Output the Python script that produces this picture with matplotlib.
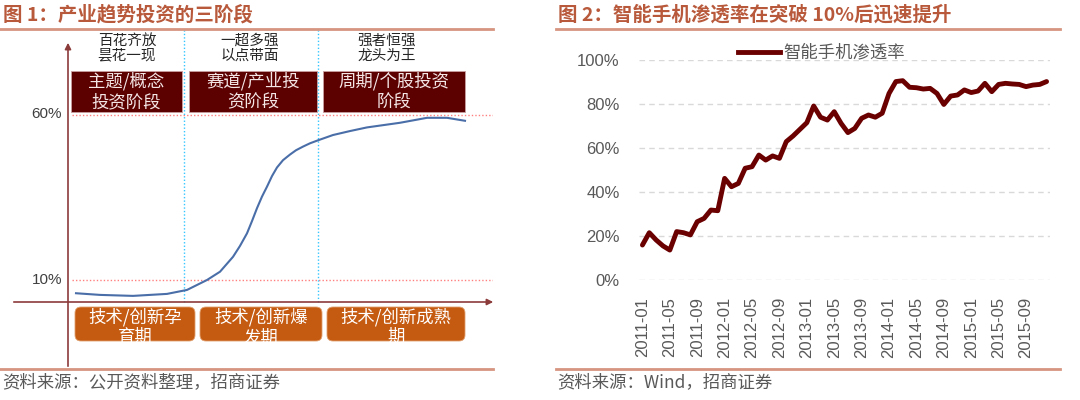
import matplotlib
matplotlib.use("Agg")
import matplotlib.pyplot as plt
from matplotlib.lines import Line2D
from matplotlib.patches import Rectangle, FancyBboxPatch

plt.rcParams['font.family'] = ['Noto Sans CJK SC', 'DejaVu Sans']

# ---- data ----
# figure 1: conceptual S curve (x = time position, y = penetration %)
curve_x = [76, 100, 133, 167, 187, 207, 220, 233, 240, 247, 252, 257, 262, 267, 272, 277, 283, 290,
           296, 303, 310, 318, 333, 350, 367, 400, 427, 447, 465]
curve_y = [6.0, 5.5, 5.2, 5.8, 7.0, 10.0, 12.5, 17.0, 20.3, 24.1, 27.8, 31.7, 35.2, 38.2, 41.4, 44.0,
           46.2, 47.9, 49.2, 50.3, 51.3, 52.2, 53.8, 55.0, 56.1, 57.5, 59.0, 59.0, 58.1]
stage_top = ["百花齐放\n昙花一现", "一超多强\n以点带面", "强者恒强\n龙头为王"]
stage_invest = ["主题/概念\n投资阶段", "赛道/产业投\n资阶段", "周期/个股投资\n阶段"]
stage_tech = ["技术/创新孕\n育期", "技术/创新爆\n发期", "技术/创新成熟\n期"]
ref_levels = [10, 60]

# figure 2: smartphone penetration, monthly 2011-01 .. 2015-12
months = ["%d-%02d" % (y, m) for y in range(2011, 2016) for m in range(1, 13)]
penetration = [15.9, 21.5, 18.2, 15.5, 13.6, 22.0, 21.5, 20.5, 26.5, 28.0, 31.8, 31.5,
               46.2, 42.4, 43.9, 50.8, 51.5, 56.8, 54.5, 56.4, 55.3, 62.9, 65.5, 68.5,
               71.5, 79.1, 74.0, 72.7, 76.5, 71.2, 67.0, 68.9, 73.5, 75.0, 74.0, 75.8,
               84.8, 90.2, 90.6, 87.6, 87.4, 86.8, 87.1, 84.8, 79.8, 83.6, 84.1, 86.4,
               85.2, 85.9, 89.4, 85.6, 88.9, 89.4, 89.1, 88.9, 87.9, 88.6, 88.9, 90.2]
series_name = "智能手机渗透率"

W, H = 1080, 400
fig = plt.figure(figsize=(W / 100, H / 100), dpi=100)


def rect(x0, y0, x1, y1):
    return [x0 / W, 1 - y1 / H, (x1 - x0) / W, (y1 - y0) / H]


def fx(x):
    return x / W


def fy(y):
    return 1 - y / H


title_c = '#b8593b'
rule_c = '#d69580'
src_c = '#595959'

# titles, rules, sources
fig.text(fx(3), fy(15), "图 1：产业趋势投资的三阶段", fontsize=14, fontweight='bold', color=title_c, va='center')
fig.text(fx(558), fy(15), "图 2：智能手机渗透率在突破 10%后迅速提升", fontsize=14, fontweight='bold', color=title_c, va='center')
for x0, x1 in [(0, 493), (556, 1060)]:
    for yy in [29, 369]:
        fig.add_artist(Line2D([fx(x0), fx(x1)], [fy(yy), fy(yy)], color=rule_c, lw=2, transform=fig.transFigure))
fig.text(fx(2), fy(382), "资料来源：公开资料整理，招商证券", fontsize=12.5, color=src_c, va='center')
fig.text(fx(557), fy(382), "资料来源：Wind，招商证券", fontsize=12.5, color=src_c, va='center')

# ---- left: concept chart ----
ax1 = fig.add_axes(rect(0, 30, 493, 369))
ax1.set_xlim(0, 493)
k = (280 - 114.5) / 50.0


def py(p):
    return 10 + (280 - p) / k


ax1.set_ylim(py(369), py(30))
ax1.axis('off')

axis_c = '#8c3b3b'
ax1.annotate("", xy=(68, py(40)), xytext=(68, py(369)),
             arrowprops=dict(arrowstyle='-|>', color=axis_c, lw=1.2, mutation_scale=9))
ax1.annotate("", xy=(496, py(302)), xytext=(11, py(302)),
             arrowprops=dict(arrowstyle='-|>', color=axis_c, lw=1.2, mutation_scale=9), annotation_clip=False)

for lv in ref_levels:
    ax1.plot([72, 493], [lv, lv], color='#ff7f7f', lw=1, ls=(0, (1, 1.5)))
    ax1.text(62, lv, "%d%%" % lv, fontsize=11, color='#404040', ha='right', va='center',
             family='Liberation Sans')
for xv in [184, 318]:
    ax1.plot([xv, xv], [py(302), py(30)], color='#33c6ff', lw=1, ls=(0, (1, 1.5)))

ax1.plot(curve_x, curve_y, color='#4a6ea8', lw=1.5, solid_joinstyle='round')

top_cx = [127, 250, 387]
for cx, t in zip(top_cx, stage_top):
    ax1.text(cx, py(48), t, fontsize=10.5, color='#262626', ha='center', va='center', linespacing=1.1)

dark_boxes = [(71, 182), (189, 317), (323, 465)]
for (x0, x1), t in zip(dark_boxes, stage_invest):
    ax1.add_patch(Rectangle((x0, py(112)), x1 - x0, py(71) - py(112), fc='#5c0000', ec='#c9a0a0', lw=0.6))
    ax1.text((x0 + x1) / 2, py(92), t, fontsize=12.5, color='#f5e6e6', ha='center', va='center', linespacing=1.2)

org_boxes = [(75, 195), (200, 322), (327, 465)]
for (x0, x1), t in zip(org_boxes, stage_tech):
    ax1.add_patch(FancyBboxPatch((x0, py(341)), x1 - x0, py(307) - py(341),
                                 boxstyle='round,pad=0,rounding_size=6', mutation_aspect=1 / k,
                                 fc='#c55a11', ec='#e0a070', lw=0.6))
    ax1.text((x0 + x1) / 2, py(327), t, fontsize=12.5, color='#ffffff', ha='center', va='center', linespacing=1.1)

# ---- right: line chart ----
ax2 = fig.add_axes(rect(639, 60, 1050, 280))
xi = list(range(len(months)))
ax2.plot(xi, penetration, color='#6b0000', lw=3.5, solid_capstyle='round', solid_joinstyle='round', clip_on=False)
ax2.set_xlim(-0.5, len(months) - 0.5)
ax2.set_ylim(0, 100)
ax2.set_yticks(range(0, 101, 20))
ax2.set_yticklabels(["%d%%" % v for v in range(0, 101, 20)], fontsize=12, color=src_c, family='Liberation Sans')
ax2.set_xticks(xi[::4])
ax2.set_xticklabels(months[::4], rotation=90, fontsize=12, color=src_c, family='Liberation Sans')
ax2.tick_params(length=0, pad=12)
ax2.tick_params(axis='y', pad=14)
ax2.grid(axis='y', color='#d9d9d9', lw=1, ls=(0, (4, 3)))
for s in ax2.spines.values():
    s.set_visible(False)

fig.add_artist(Line2D([fx(738), fx(780)], [fy(52), fy(52)], color='#6b0000', lw=3.5, transform=fig.transFigure))
fig.text(fx(783), fy(52), series_name, fontsize=12.5, color=src_c, va='center')

fig.savefig("out.png", dpi=100)
